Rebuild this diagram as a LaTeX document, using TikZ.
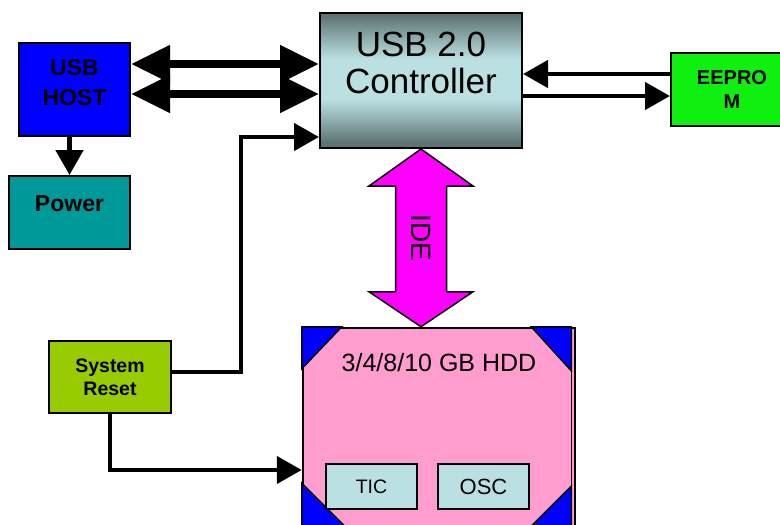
\documentclass[tikz,border=0pt]{standalone}
\usepackage{fontspec}
\setmainfont{Liberation Sans}
\usetikzlibrary{arrows.meta,calc}
\definecolor{hostblue}{RGB}{0,0,255}
\definecolor{powerteal}{RGB}{0,153,153}
\definecolor{eepromgreen}{RGB}{16,240,16}
\definecolor{resetgreen}{RGB}{153,204,0}
\definecolor{ctrldark}{RGB}{94,116,116}
\definecolor{ctrllight}{RGB}{186,224,226}
\definecolor{hddpink}{RGB}{255,158,206}
\definecolor{chipblue}{RGB}{187,224,227}
\definecolor{idemagenta}{RGB}{255,0,255}
\pgfdeclareverticalshading{ctrlshade}{100bp}{color(0bp)=(ctrldark); color(27bp)=(ctrldark); color(43bp)=(ctrllight); color(58bp)=(ctrllight); color(74bp)=(ctrldark); color(100bp)=(ctrldark)}
\begin{document}
\begin{tikzpicture}[x=1pt, y=-1pt, line join=miter,
	box/.style={draw, line width=2pt, align=center, inner sep=0pt},
	bus/.style={{Triangle[length=39pt,width=36pt]}-{Triangle[length=39pt,width=36pt]}, line width=8pt},
	wire/.style={-{Triangle[length=25pt,width=27pt]}, line width=4.5pt}]
	\def\fs#1#2{\fontsize{#1}{#2}\selectfont}
	\def\up#1{\raisebox{7pt}[\height][\depth]{#1}}
	\useasboundingbox (0,0) rectangle (780,525);
	\node (host) [box, fill=hostblue, minimum width=111, minimum height=93, font=\fs{23}{30}\bfseries] at (74.5,89.5) {\up{USB}\\\up{HOST}};
	\node (power) [box, fill=powerteal, minimum width=121, minimum height=73, text depth=17pt, font=\fs{23}{26}\bfseries] at (69.5,212.5) {Power};
	\node (ctrl) [box, shading=ctrlshade, minimum width=202, minimum height=135] at (421,80.5) {};
	\node (ctrltext) [align=center, font=\fs{35}{37}] at ([yshift=18]ctrl.center) {USB 2.0\\Controller};
	\node (eeprom) [box, fill=eepromgreen, minimum width=122, minimum height=73, font=\fs{20}{24}\bfseries] at (732,89.5) {EEPRO\\M};
	\node (reset) [box, fill=resetgreen, minimum width=122, minimum height=72, font=\fs{19.5}{23}\bfseries] at (110,377) {System\\Reset};
	\node (hdd) [draw, line width=2.5pt, fill=hddpink, minimum width=272, minimum height=199, inner sep=0pt] at (439,427.5) {};
	\draw[line width=1.5pt] ([xshift=-5]hdd.north east) -- ([xshift=-5]hdd.south east);
	\filldraw[fill=hostblue, line width=1.5pt] (hdd.north west) -- ++(40,0) -- ++(-40,42) -- cycle;
	\filldraw[fill=hostblue, line width=1.5pt] ([xshift=-5]hdd.north east) -- ++(-40,0) -- ++(40,44) -- cycle;
	\filldraw[fill=hostblue, line width=1.5pt] (hdd.south west) -- ++(45,0) -- ++(-45,-45) -- cycle;
	\filldraw[fill=hostblue, line width=1.5pt] ([xshift=-5]hdd.south east) -- ++(-42,0) -- ++(42,-42) -- cycle;
	\node (hddtitle) [font=\fs{25}{28}] at (439,363) {3/4/8/10 GB HDD};
	\node (tic) [box, line width=1.5pt, fill=chipblue, minimum width=91, minimum height=45, font=\fs{19.5}{22}] at (371.5,486.5) {TIC};
	\node (osc) [box, line width=1.5pt, fill=chipblue, minimum width=91, minimum height=45, font=\fs{22}{24}] at (483.5,486.5) {OSC};
	\coordinate (idebot) at (ctrl.south |- hdd.north);
	\filldraw[fill=idemagenta, line width=1.5pt] (ctrl.south) -- ++(52,37) -- ++(-26.5,0) -- ($(idebot)+(25.5,-35)$) -- ++(26.5,0) -- (idebot)
		-- ++(-52,-35) -- ++(26.5,0) -- ($(ctrl.south)+(-25.5,37)$) -- ++(-26.5,0) -- cycle;
	\node (ide) [rotate=-90, font=\fs{28}{30}] at ($(ctrl.south)!0.5!(idebot)$) {IDE};
	\draw[bus] ([yshift=25.5]host.east) coordinate (h1) -- (h1 -| ctrl.west);
	\draw[bus] ([yshift=-4.5]host.east) coordinate (h2) -- (h2 -| ctrl.west);
	\draw[wire, line width=5pt] (power.north |- host.south) -- (power.north);
	\draw[wire] ([yshift=15.5]eeprom.west) coordinate (e1) -- (e1 -| ctrl.east);
	\draw[wire] ([yshift=-15.5]ctrl.east) coordinate (e2) -- (e2 -| eeprom.west);
	\draw[wire] ([yshift=5]reset.east) -- ++(69,0) |- ([yshift=12]ctrl.south west);
	\draw[wire] (reset.south) |- ([yshift=-42.5]hdd.west);
\end{tikzpicture}
\end{document}
